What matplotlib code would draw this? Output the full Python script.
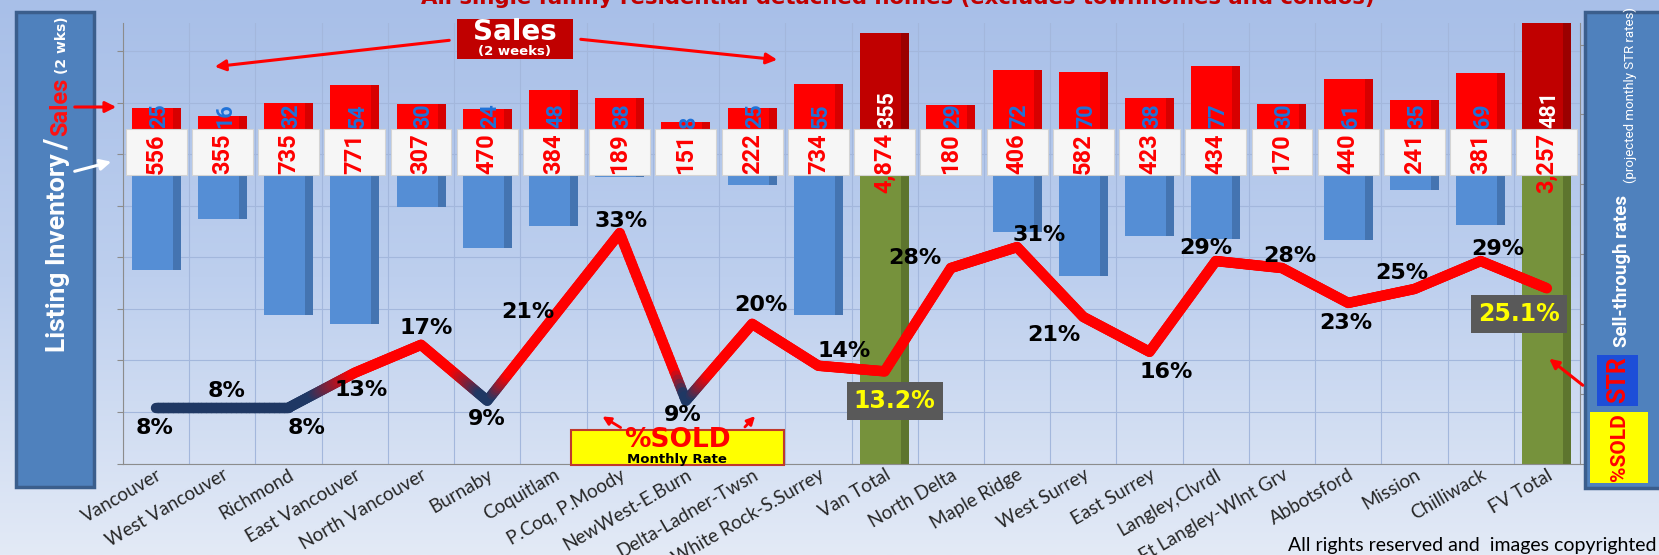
import numpy as np
import matplotlib.pyplot as plt
from matplotlib.collections import LineCollection
from matplotlib.colors import LinearSegmentedColormap, to_rgb
from matplotlib.patches import Rectangle, FancyArrowPatch

W, H, DPI = 1659, 555, 100

# ---- data ----
areas = ["Vancouver", "West Vancouver", "Richmond", "East Vancouver", "North Vancouver",
         "Burnaby", "Coquitlam", "P.Coq, P.Moody", "NewWest-E.Burn", "Delta-Ladner-Twsn",
         "White Rock-S.Surrey", "Van Total", "North Delta", "Maple Ridge", "West Surrey",
         "East Surrey", "Langley,Clvrdl", "Ft Langley-Wlnt Grv", "Abbotsford", "Mission",
         "Chilliwack", "FV Total"]
inventory = [556, 355, 735, 771, 307, 470, 384, 189, 151, 222, 734, 4874,
             180, 406, 582, 423, 434, 170, 440, 241, 381, 3257]
sales = [25, 16, 32, 54, 30, 24, 48, 38, 8, 25, 55, 355,
         29, 72, 70, 38, 77, 30, 61, 35, 69, 481]
sold_pct = [8, 8, 8, 13, 17, 9, 21, 33, 9, 20, 14, 13.2,
            28, 31, 21, 16, 29, 28, 23, 25, 29, 25.1]
is_total = [a.endswith("Total") for a in areas]

# label offsets for the %sold labels (pixels, image y pointing down)
pct_offsets = [(-2, 20), (4, -17), (18, 20), (6, 17), (5, -17), (-1, 18), (-26, -5), (1, -12),
               (-3, 14), (9, -19), (26, -15), (10, 30), (-36, -10), (22, -12), (-29, 18), (17, 20),
               (-10, -13), (8, -12), (-2, 20), (-13, -16), (17, -12), (-28, 26)]

# chart scaling used by the original (totals drawn at 1/3, inventory squeezed)
TOTAL_SCALE = 1 / 3
INV_SCALE = 0.314
BOX_H = 57
NARROW = "Roboto"


def F(x, y):
    return (x / W, 1 - y / H)


fig = plt.figure(figsize=(W / DPI, H / DPI), dpi=DPI)

# background gradient
bg = fig.add_axes([0, 0, 1, 1], zorder=-10)
cm = LinearSegmentedColormap.from_list("bg", ["#a8bfe8", "#bdcfee", "#e3eaf6"])
bg.imshow(np.linspace(0, 1, 256)[:, None], aspect="auto", cmap=cm, extent=[0, 1, 0, 1], origin="upper")
bg.axis("off")

ax = fig.add_axes([123 / W, 1 - 463.5 / H, (1580 - 123) / W, (463.5 - 23) / H])
ax.patch.set_alpha(0)
n = len(areas)
x = np.arange(n)

sales_h = [s * TOTAL_SCALE if t else s for s, t in zip(sales, is_total)]
inv_h = [-v * INV_SCALE for v in inventory]
red_col = ["#c00000" if t else "#ff0000" for t in is_total]
red_dark = ["#6e0000" if t else "#a80000" for t in is_total]
inv_col = ["#76923c" if t else "#558ed5" for t in is_total]
inv_dark = ["#4a5e24" if t else "#365f95" for t in is_total]

ax.bar(x, inv_h, width=0.74, color=inv_col, zorder=2)
ax.bar(x + 0.31, inv_h, width=0.12, color=inv_dark, alpha=0.55, zorder=2.1)
ax.bar(x, sales_h, width=0.74, color=red_col, zorder=2)
ax.bar(x + 0.31, sales_h, width=0.12, color=red_dark, alpha=0.45, zorder=2.1)

# white label boxes under the baseline
ax.bar(x, [-BOX_H] * n, width=0.92, color="#f6f6f6", edgecolor="#d4d4d4", lw=0.8, zorder=3)

for xi, v in zip(x, inventory):
    ax.text(xi, -6, f"{v:,}", rotation=90, ha="center", va="top", color="#ff0000",
            fontsize=17, fontweight="bold", family=NARROW, zorder=4)
for xi, s, t in zip(x, sales, is_total):
    ax.text(xi + 0.04, 0.5, str(s), rotation=90, ha="center", va="bottom",
            color="white" if t else "#1f72d8", fontsize=15.5, fontweight="bold", family=NARROW, zorder=4)

ax.set_xlim(-0.5, n - 0.5)
ax.set_ylim(-414, 130.4)
ax.set_yticks(np.arange(-414, 131, 63.7))
ax.set_yticklabels([])
ax.set_xticks(x)
ax.set_xticklabels(areas, rotation=30, ha="right", va="top", rotation_mode="anchor",
                   fontsize=13.5, family="Lato", color="#262626")
ax.set_xticks(np.arange(-0.5, n, 1), minor=True)
ax.tick_params(axis="x", which="both", length=0, pad=2)
ax.tick_params(axis="y", length=4, color="#8c8c8c", direction="out")
ax.grid(axis="y", which="major", color="#a3b7dc", lw=0.8, zorder=0)
ax.grid(axis="x", which="minor", color="#a3b7dc", lw=0.8, zorder=0)
ax.set_axisbelow(True)
for s in ["top", "right"]:
    ax.spines[s].set_visible(False)
for s in ["left", "bottom"]:
    ax.spines[s].set_color("#8c8c8c")

# ---- sell-through line ----
ax2 = ax.twinx()
ax2.set_ylim(0, 63.1)
ax2.set_yticks(np.arange(0, 61, 10))
ax2.set_yticklabels([])
ax2.tick_params(axis="y", length=4, color="#8c8c8c", direction="out")
for s in ["top", "left", "bottom"]:
    ax2.spines[s].set_visible(False)
ax2.spines["right"].set_color("#8c8c8c")

ys = np.array(sold_pct, float)
navy = np.array(to_rgb("#1f3864"))
red = np.array(to_rgb("#ff0000"))
segs, cols = [], []
for i in range(n - 1):
    tt = np.linspace(0, 1, 41)
    px = x[i] + (x[i + 1] - x[i]) * tt
    py = ys[i] + (ys[i + 1] - ys[i]) * tt
    for j in range(40):
        f = np.clip(((py[j] + py[j + 1]) / 2 - 9.8) / 3.2, 0, 1)
        segs.append([(px[j], py[j]), (px[j + 1], py[j + 1])])
        cols.append(navy * (1 - f) + red * f)
ax2.add_collection(LineCollection(segs, colors=cols, linewidths=7.5, capstyle="round",
                                  joinstyle="round", zorder=5))

for xi, v, t, (dx, dy) in zip(x, sold_pct, is_total, pct_offsets):
    lab = f"{v:.1f}%" if t else f"{v:.0f}%"
    kw = dict(color="black", fontsize=16)
    if t:
        kw = dict(color="#ffff00", fontsize=17,
                  bbox=dict(boxstyle="square,pad=0.3", fc="#595959", ec="none"))
    ax2.annotate(lab, (xi, v), xytext=(dx * 0.72, -dy * 0.72), textcoords="offset points",
                 ha="center", va="center", fontweight="bold", family="DejaVu Sans", zorder=6, **kw)

# ---- decorations ----
fig.text(898 / W, 1 - 4.5 / H, "All single family residential detached homes (excludes townhomes and condos)",
         ha="center", va="baseline", color="#c00000", fontsize=15.3, fontweight="bold", family="DejaVu Sans")
fig.text(1657 / W, 1 - 551 / H, "All rights reserved and  images copyrighted", ha="right",
         va="baseline", fontsize=14, family="Lato", color="black")


def arrow(p0, p1, color="#ff0000", lw=2.2, ms=16):
    fig.add_artist(FancyArrowPatch(F(*p0), F(*p1), transform=fig.transFigure, arrowstyle="-|>",
                                   mutation_scale=ms, lw=lw, color=color, zorder=20))


# Sales callout
fig.add_artist(Rectangle(F(457, 59), 116 / W, 40 / H, transform=fig.transFigure, fc="#c00000",
                         ec="none", zorder=19))
fig.text(*F(515, 32), "Sales", ha="center", va="center", color="white", fontsize=20,
         fontweight="bold", family="DejaVu Sans", zorder=21)
fig.text(*F(515, 51), "(2 weeks)", ha="center", va="center", color="white", fontsize=9.5,
         fontweight="bold", family="DejaVu Sans", zorder=21)
arrow((452, 40), (212, 67))
arrow((578, 39), (780, 60))

# %SOLD monthly rate callout
fig.add_artist(Rectangle(F(571, 465), 213 / W, 35 / H, transform=fig.transFigure, fc="#ffff00",
                         ec="#c0392b", lw=1.5, zorder=19))
fig.text(*F(677, 440), "%SOLD", ha="center", va="center", color="#ff0000", fontsize=19,
         fontweight="bold", family="DejaVu Sans", zorder=21)
fig.text(*F(677, 459), "Monthly Rate", ha="center", va="center", color="black", fontsize=9.5,
         fontweight="bold", family="DejaVu Sans", zorder=21)
arrow((623, 429), (600, 415), ms=12, lw=2)
arrow((743, 429), (757, 414), ms=12, lw=2)

# side panels
fig.add_artist(Rectangle(F(16, 487), 78 / W, 475 / H, transform=fig.transFigure, fc="#4f81bd",
                         ec="#3b5e8c", lw=2.5, zorder=18))
fig.add_artist(Rectangle(F(1585, 488), 90 / W, 476 / H, transform=fig.transFigure, fc="#4f81bd",
                         ec="#3b5e8c", lw=2.5, zorder=18))
fig.add_artist(Rectangle(F(1590, 483), 58 / W, 71 / H, transform=fig.transFigure, fc="#ffff00",
                         ec="none", zorder=19))
fig.add_artist(Rectangle(F(1597, 406), 41 / W, 51 / H, transform=fig.transFigure, fc="#1d4ed8",
                         ec="none", zorder=19))
fig.text(*F(1619, 447), "%SOLD", rotation=90, ha="center", va="center", color="#ff0000",
         fontsize=15, fontweight="bold", family=NARROW, zorder=22)
fig.text(*F(1618, 380), "STR", rotation=90, ha="center", va="center", color="#ff0000",
         fontsize=18, fontweight="bold", family=NARROW, zorder=22)

fig.canvas.draw()
rend = fig.canvas.get_renderer()


def vstack(pieces, y_start):
    y = y_start
    for s, xb, gap, kw in pieces:
        t = fig.text(*F(xb, y), s, rotation=90, rotation_mode="anchor", ha="left",
                     va="baseline", zorder=22, **kw)
        y -= t.get_window_extent(rend).height + gap


vstack([
    ("Listing Inventory", 65, 3, dict(color="white", fontsize=19, fontweight="bold", family=NARROW)),
    ("/", 66, 3, dict(color="white", fontsize=22, fontweight="bold", family=NARROW)),
    ("Sales", 67, 4, dict(color="#ff1010", fontsize=17, fontweight="bold", family=NARROW)),
    ("(2 wks)", 66, 0, dict(color="white", fontsize=10, fontweight="bold", family="DejaVu Sans")),
], 352)

vstack([
    ("Sell-through rates", 1627, 12, dict(color="white", fontsize=13.5, fontweight="bold", family=NARROW)),
    ("(projected monthly STR rates)", 1634, 0, dict(color="white", fontsize=9.5, family=NARROW)),
], 347)

arrow((72, 107), (119, 107), lw=2.2, ms=16)
arrow((72, 172), (114, 161), color="white", lw=2.2, ms=16)
arrow((1585, 387), (1547, 357), lw=2.2, ms=14)

fig.savefig("out.png", dpi=DPI)
